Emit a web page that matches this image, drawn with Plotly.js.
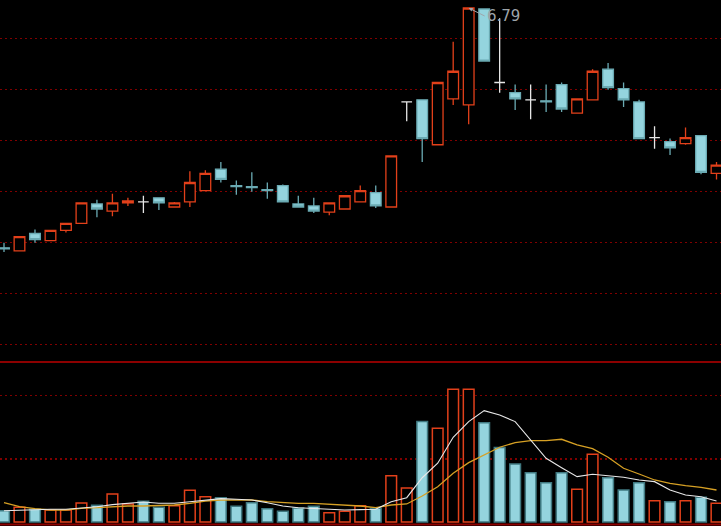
<!DOCTYPE html>
<html><head><meta charset="utf-8">
<script src="https://cdn.plot.ly/plotly-3.0.1.min.js"></script>
<style>html,body{margin:0;padding:0;background:#000;overflow:hidden}#chart{width:721px;height:526px}</style>
</head><body><div id="chart"></div>
<script>
// Daily candles (47 sessions), price in yuan
const openP  = [4.44,4.41,4.58,4.51,4.61,4.68,4.87,4.80,4.88,4.89, 4.93,4.84,4.89,5.00,5.21,5.05,5.04,5.01,5.05,4.87, 4.85,4.79,4.82,4.89,4.98,4.84,5.87,5.89,5.45,5.90, 5.84,6.78,6.06,5.96,5.89,5.88,6.04,5.76,5.89,6.19, 6.00,5.87,5.52,5.48,5.46,5.54,5.17];
const highP  = [4.49,4.55,4.62,4.61,4.68,4.88,4.91,4.97,4.93,4.95, 4.93,4.89,5.19,5.20,5.28,5.10,5.18,5.08,5.06,4.95, 4.93,4.88,4.95,5.05,5.05,5.34,5.87,5.89,6.06,6.46, 6.79,6.78,6.69,6.04,6.04,6.04,6.06,5.90,6.19,6.25, 6.06,5.89,5.63,5.51,5.62,5.54,5.28];
const lowP   = [4.40,4.41,4.49,4.51,4.59,4.68,4.74,4.75,4.85,4.78, 4.81,4.84,4.84,5.00,5.08,4.96,4.99,4.92,4.89,4.84, 4.78,4.76,4.82,4.89,4.83,4.84,5.68,5.28,5.45,5.84, 5.65,6.27,5.96,5.79,5.70,5.77,5.77,5.76,5.89,5.99, 5.82,5.51,5.41,5.35,5.45,5.16,5.11];
const closeP = [4.43,4.55,4.52,4.61,4.68,4.88,4.82,4.88,4.90,4.89, 4.88,4.88,5.08,5.17,5.11,5.04,5.03,5.00,4.89,4.84, 4.80,4.88,4.95,5.00,4.85,5.34,5.87,5.51,6.06,6.17, 6.79,6.27,6.06,5.90,5.89,5.87,5.80,5.90,6.17,6.01, 5.89,5.51,5.52,5.42,5.52,5.18,5.25];
// Volume and its 5 / 10 day moving averages
const volume  = [17.9,23.3,20.1,19.0,19.0,30.1,26.4,44.3,28.5,32.8, 23.3,25.8,50.2,40.0,38.4,24.8,30.5,21.0,16.9,22.2, 24.8,14.7,16.9,25.8,21.7,73.3,53.8,158.7,148.3,210.0, 210.0,157.1,117.6,91.8,78.0,62.2,78.0,51.7,107.1,70.1, 50.6,62.2,33.7,32.1,33.7,39.1,29.6];
const volMA5  = [17.9,19.0,20.1,20.1,20.1,21.7,24.2,27.4,29.6,31.6, 29.6,29.6,32.1,34.8,36.9,35.9,34.8,30.5,25.3,22.6, 21.7,20.1,19.0,19.5,20.1,32.1,38.4,70.0,92.9,134.0, 158.7,176.1,169.3,158.7,129.7,100.8,85.9,71.7,75.5,72.8, 70.7,66.4,63.8,50.6,42.7,40.0,33.2];
const volMA10 = [30.5,24.2,21.0,19.0,19.0,21.7,22.6,24.2,25.3,25.3, 25.8,26.9,29.6,33.2,34.8,34.8,34.8,32.1,30.5,29.6, 29.6,28.5,26.9,25.3,22.6,26.9,28.5,41.1,55.8,77.0, 93.8,106.0,118.2,125.5,128.6,128.6,130.8,121.8,116.0,102.4, 85.0,75.9,66.4,61.2,57.4,54.9,50.6];

const RED = '#e2401a', CYAN = '#94d4de', CYAN_LINE = '#6aaab3', WHITE = '#e6e6e6';
const GRID = '#800000', SEP = '#8c0000';

const idx = openP.map((_, i) => i);
const moving = idx.filter(i => openP[i] !== closeP[i]);
const flat = idx.filter(i => openP[i] === closeP[i]);
const pick = (arr, list) => list.map(i => arr[i]);

const isUp = idx.map(i => closeP[i] > openP[i] ||
  (closeP[i] === openP[i] && i > 0 && closeP[i] >= closeP[i - 1]));

const traces = [
  {type:'candlestick', x: moving, open: pick(openP, moving), high: pick(highP, moving),
   low: pick(lowP, moving), close: pick(closeP, moving), xaxis:'x', yaxis:'y',
   whiskerwidth: 0, hoverinfo:'skip',
   increasing:{line:{color:RED, width:1.3}, fillcolor:'#000000'},
   decreasing:{line:{color:CYAN_LINE, width:1.3}, fillcolor:CYAN}},
  {type:'candlestick', x: flat, open: pick(openP, flat), high: pick(highP, flat),
   low: pick(lowP, flat), close: pick(closeP, flat), xaxis:'x', yaxis:'y',
   whiskerwidth: 0, hoverinfo:'skip',
   increasing:{line:{color:WHITE, width:1.3}, fillcolor:WHITE},
   decreasing:{line:{color:WHITE, width:1.3}, fillcolor:WHITE}},
  {type:'bar', x: idx, y: volume, xaxis:'x', yaxis:'y2', hoverinfo:'skip',
   marker:{color: isUp.map(u => u ? '#000000' : CYAN),
           line:{color: isUp.map(u => u ? RED : '#3f7880'), width: 1.5}}},
  {type:'scatter', mode:'lines', x: idx, y: volMA10, xaxis:'x', yaxis:'y2', hoverinfo:'skip',
   line:{color:'#d6a024', width:1.3}},
  {type:'scatter', mode:'lines', x: idx, y: volMA5, xaxis:'x', yaxis:'y2', hoverinfo:'skip',
   line:{color:'#e8e8e8', width:1.1}}
];

const hiIdx = highP.indexOf(Math.max(...highP));
const sepY = (526 - 362) / 526;

const layout = {
  width: 721, height: 526, margin:{l:0, r:0, t:0, b:0},
  paper_bgcolor:'#000000', plot_bgcolor:'#000000', showlegend:false,
  boxgap: 0.31, boxgroupgap: 0, bargap: 0.31,
  xaxis:{range:[-0.258, 46.29], showgrid:false, zeroline:false, showticklabels:false,
         ticks:'', showline:false, rangeslider:{visible:false}, fixedrange:true},
  yaxis:{domain:[sepY, 1], range:[3.3208, 6.8684], tick0:6.4931, dtick:0.4998,
         showgrid:true, gridcolor:GRID, gridwidth:1.5, griddash:'1.5px,3.5px',
         zeroline:false, showticklabels:false, ticks:'', showline:false},
  yaxis2:{domain:[0, sepY], range:[-6.32, 252.96], tickmode:'array', tickvals:[100, 200],
          showgrid:true, gridcolor:GRID, gridwidth:1.5, griddash:'1.5px,3.5px',
          zeroline:false, showticklabels:false, ticks:'', showline:false},
  shapes:[
    {type:'line', xref:'paper', yref:'paper', x0:0, x1:1, y0:sepY, y1:sepY, line:{color:SEP, width:2}},
    {type:'line', xref:'paper', yref:'paper', x0:0, x1:1, y0:0.003, y1:0.003, line:{color:SEP, width:2}}
  ],
  annotations:[
    {x: hiIdx, y: highP[hiIdx], xref:'x', yref:'y', text: highP[hiIdx].toFixed(2),
     showarrow:true, arrowhead:2, arrowsize:0.8, arrowwidth:1, arrowcolor:'#a0a6ab',
     ax:16, ay:8, xanchor:'left', yanchor:'middle',
     font:{family:'DejaVu Sans', size:15, color:'#9ea4a9'}}
  ]
};

Plotly.newPlot('chart', traces, layout, {displayModeBar:false, staticPlot:true});
</script>
</body></html>
